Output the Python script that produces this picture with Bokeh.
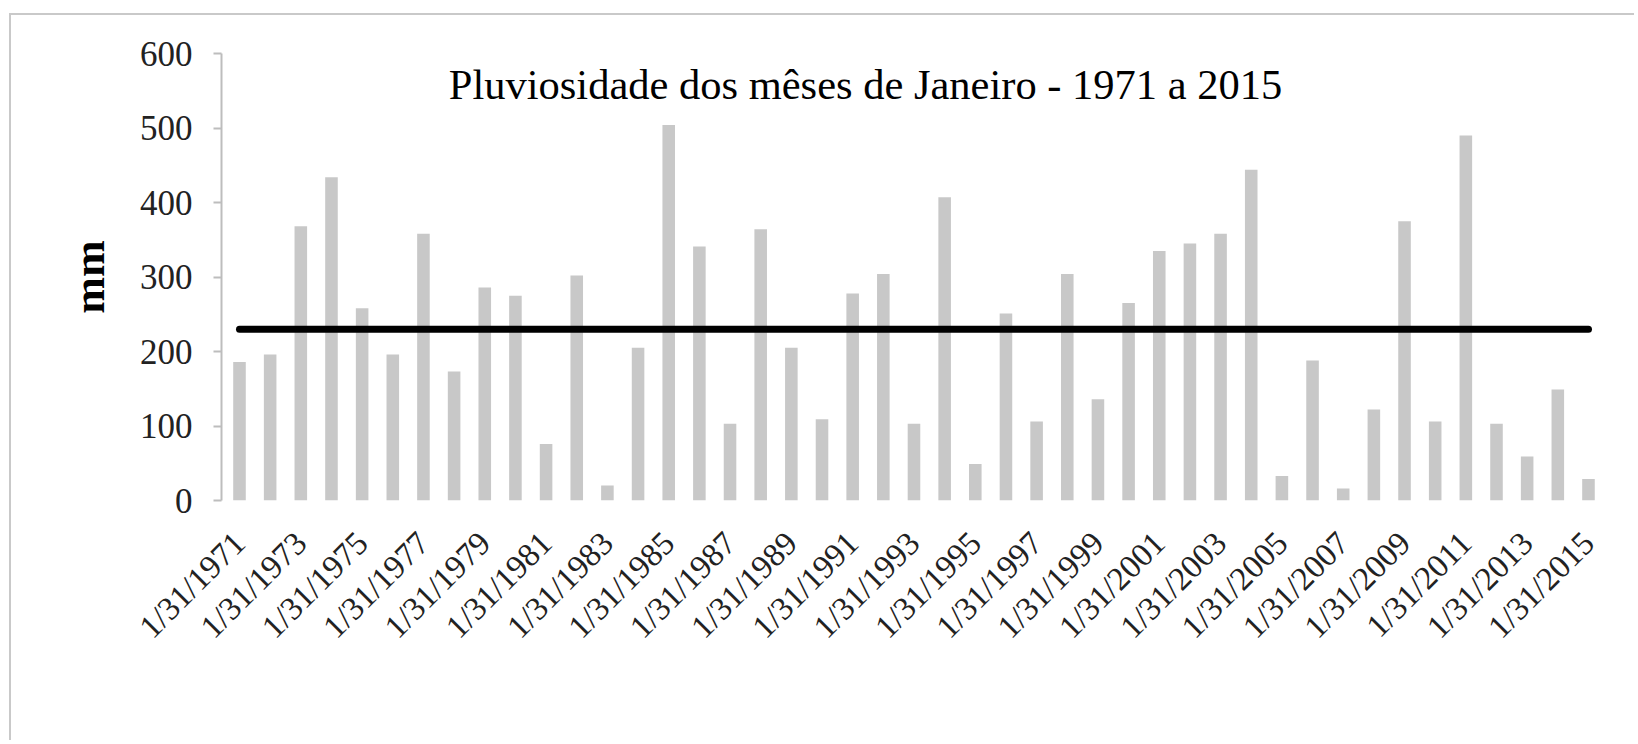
import math
from bokeh.plotting import figure
from bokeh.models import Range1d, FixedTicker, Label, ColumnDataSource
from bokeh.embed import file_html
from bokeh.resources import INLINE

# ---- data ----
years = [1971, 1972, 1973, 1974, 1975, 1976, 1977, 1978, 1979, 1980,
         1981, 1982, 1983, 1984, 1985, 1986, 1987, 1988, 1989, 1990,
         1991, 1992, 1993, 1994, 1995, 1996, 1997, 1998, 1999, 2000,
         2001, 2002, 2003, 2004, 2005, 2006, 2007, 2008, 2009, 2010,
         2011, 2012, 2013, 2014, 2015]
rain_mm = [186, 196, 368, 434, 258, 196, 358, 173, 286, 275,
           76, 302, 20, 205, 504, 341, 103, 364, 205, 109,
           278, 304, 103, 407, 49, 251, 106, 304, 136, 265,
           335, 345, 358, 444, 33, 188, 16, 122, 375, 106,
           490, 103, 59, 149, 29]
mean_mm = 230
tick_years = [1971, 1973, 1975, 1977, 1979, 1981, 1983, 1985, 1987, 1989,
              1991, 1993, 1995, 1997, 1999, 2001, 2003, 2005, 2007, 2009,
              2011, 2013, 2015]
tick_labels = ["1/31/1971", "1/31/1973", "1/31/1975", "1/31/1977", "1/31/1979",
               "1/31/1981", "1/31/1983", "1/31/1985", "1/31/1987", "1/31/1989",
               "1/31/1991", "1/31/1993", "1/31/1995", "1/31/1997", "1/31/1999",
               "1/31/2001", "1/31/2003", "1/31/2005", "1/31/2007", "1/31/2009",
               "1/31/2011", "1/31/2013", "1/31/2015"]
y_ticks = [0, 100, 200, 300, 400, 500, 600]
title_text = "Pluviosidade dos mêses de Janeiro - 1971 a 2015"
y_label = "mm"

SERIF = "Liberation Serif"

p = figure(width=1625, height=727, output_backend="svg", toolbar_location=None,
           x_range=Range1d(1970.413, 2015.49), y_range=Range1d(0, 600),
           min_border_left=210, min_border_right=33, min_border_top=38,
           min_border_bottom=242)
p.styles = {"border-left": "2px solid #c9c9c9", "border-top": "2px solid #c9c9c9",
            "margin-left": "9px", "margin-top": "13px"}
p.background_fill_color = "white"
p.border_fill_color = "white"
p.outline_line_color = None
p.grid.visible = False

src = ColumnDataSource(dict(year=years, rain=rain_mm))
p.vbar(x="year", top="rain", width=0.41, bottom=0, source=src,
       fill_color="#c8c8c8", line_color=None)
p.line(x=[years[0], years[-1]], y=[mean_mm, mean_mm], line_color="black",
       line_width=7, line_cap="round")

# y axis
ya = p.yaxis[0]
ya.ticker = FixedTicker(ticks=y_ticks)
ya.axis_line_color = "#bdbdbd"
ya.axis_line_width = 2
ya.major_tick_line_color = "#bdbdbd"
ya.major_tick_line_width = 2
ya.major_tick_out = 8
ya.major_tick_in = 0
ya.minor_tick_line_color = None
ya.major_label_text_font = SERIF
ya.major_label_text_font_size = "35px"
ya.major_label_text_color = "#222222"
ya.major_label_standoff = 21
ya.axis_label = y_label
ya.axis_label_text_font = SERIF
ya.axis_label_text_font_size = "44px"
ya.axis_label_text_font_style = "bold"
ya.axis_label_text_color = "black"
ya.axis_label_standoff = 23

# x axis
xa = p.xaxis[0]
xa.ticker = FixedTicker(ticks=tick_years)
xa.major_label_overrides = {y: lab for y, lab in zip(tick_years, tick_labels)}
xa.major_label_orientation = math.pi / 4
xa.axis_line_color = None
xa.major_tick_line_color = None
xa.minor_tick_line_color = None
xa.major_label_text_font = SERIF
xa.major_label_text_font_size = "33px"
xa.major_label_text_color = "#222222"
xa.major_label_standoff = 31

p.add_layout(Label(x=644, y=416, x_units="screen", y_units="screen",
                   text=title_text, text_align="center", text_baseline="alphabetic",
                   text_font=SERIF, text_font_size="42.5px", text_color="black"))

open("out.html", "w").write(file_html(p, INLINE))
